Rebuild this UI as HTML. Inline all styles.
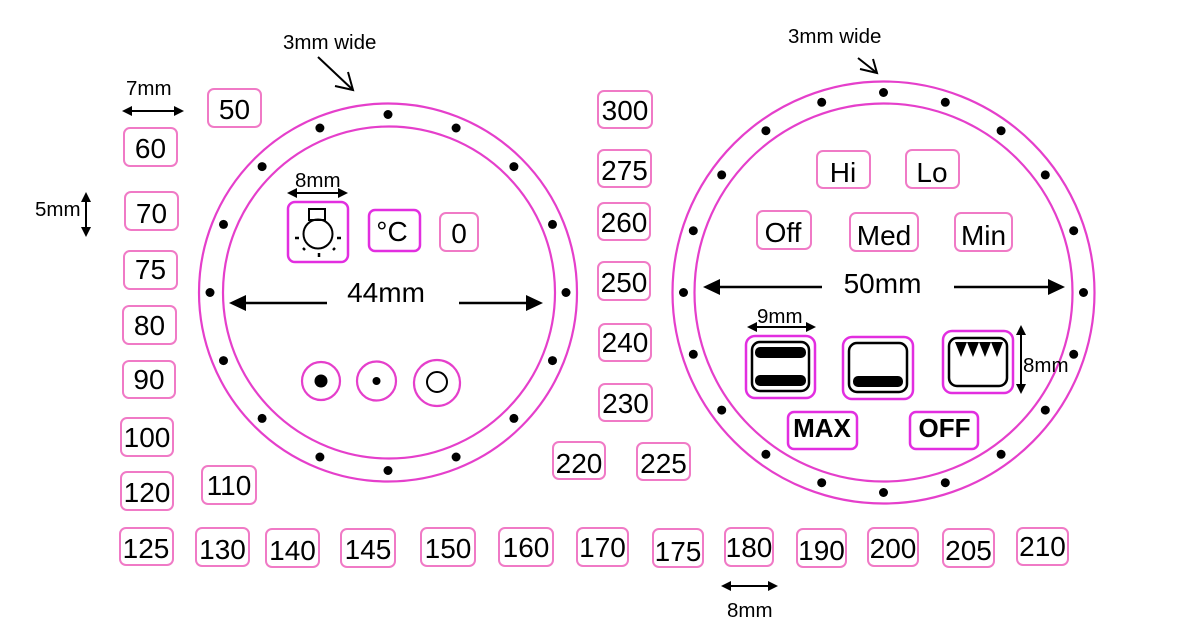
<!DOCTYPE html>
<html>
<head>
<meta charset="utf-8">
<style>
html,body{margin:0;padding:0;background:#fff;}
svg{display:block;}
text{font-family:"Liberation Sans",Arial,sans-serif;fill:#000;}
.b{fill:none;stroke:#f07ac6;stroke-width:2;}
.m{fill:none;stroke:#e22ee0;stroke-width:2.5;}
.c{fill:none;stroke:#e53fcb;stroke-width:2.2;}
.n{font-size:28px;text-anchor:middle;}
.s{font-size:20.5px;}
.k{fill:none;stroke:#000;stroke-width:2.5;}
</style>
</head>
<body>
<svg width="1195" height="644" viewBox="0 0 1195 644" xmlns="http://www.w3.org/2000/svg">
<rect width="1195" height="644" fill="#fff"/>

<!-- Left dial -->
<circle class="c" cx="388" cy="292.5" r="189"/>
<circle class="c" cx="389" cy="292.5" r="166"/>
<g fill="#000">
<circle cx="388" cy="114.5" r="4.5"/><circle cx="456.1" cy="128" r="4.5"/><circle cx="513.9" cy="166.6" r="4.5"/><circle cx="552.5" cy="224.4" r="4.5"/>
<circle cx="566" cy="292.5" r="4.5"/><circle cx="552.5" cy="360.6" r="4.5"/><circle cx="513.9" cy="418.4" r="4.5"/><circle cx="456.1" cy="457" r="4.5"/>
<circle cx="388" cy="470.5" r="4.5"/><circle cx="319.9" cy="457" r="4.5"/><circle cx="262.1" cy="418.4" r="4.5"/><circle cx="223.5" cy="360.6" r="4.5"/>
<circle cx="210" cy="292.5" r="4.5"/><circle cx="223.5" cy="224.4" r="4.5"/><circle cx="262.1" cy="166.6" r="4.5"/><circle cx="319.9" cy="128" r="4.5"/>
</g>

<!-- Right dial -->
<circle class="c" cx="883.5" cy="292.5" r="211"/>
<circle class="c" cx="883.5" cy="292.5" r="189"/>
<g fill="#000">
<circle cx="883.5" cy="92.5" r="4.5"/><circle cx="945.3" cy="102.3" r="4.5"/><circle cx="1001.1" cy="130.7" r="4.5"/><circle cx="1045.3" cy="174.9" r="4.5"/>
<circle cx="1073.7" cy="230.7" r="4.5"/><circle cx="1083.5" cy="292.5" r="4.5"/><circle cx="1073.7" cy="354.3" r="4.5"/><circle cx="1045.3" cy="410.1" r="4.5"/>
<circle cx="1001.1" cy="454.3" r="4.5"/><circle cx="945.3" cy="482.7" r="4.5"/><circle cx="883.5" cy="492.5" r="4.5"/><circle cx="821.7" cy="482.7" r="4.5"/>
<circle cx="765.9" cy="454.3" r="4.5"/><circle cx="721.7" cy="410.1" r="4.5"/><circle cx="693.3" cy="354.3" r="4.5"/><circle cx="683.5" cy="292.5" r="4.5"/>
<circle cx="693.3" cy="230.7" r="4.5"/><circle cx="721.7" cy="174.9" r="4.5"/><circle cx="765.9" cy="130.7" r="4.5"/><circle cx="821.7" cy="102.3" r="4.5"/>
</g>

<!-- Dimension labels & arrows -->
<text class="s" x="283" y="49">3mm wide</text>
<g stroke="#000" stroke-width="2" fill="none">
<line x1="318" y1="57" x2="353" y2="90"/>
<polyline points="335,86 353,90 348,72"/>
<line x1="858" y1="58" x2="877" y2="73"/>
<polyline points="860,69 877,73 873,59"/>
</g>
<text class="s" x="788" y="43">3mm wide</text>

<text class="s" x="126" y="95">7mm</text>
<line x1="128" y1="111" x2="178" y2="111" stroke="#000" stroke-width="2"/>
<polygon points="122,111 132,106 132,116" fill="#000"/>
<polygon points="184,111 174,106 174,116" fill="#000"/>

<text class="s" x="35" y="216">5mm</text>
<line x1="86" y1="198" x2="86" y2="232" stroke="#000" stroke-width="2"/>
<polygon points="86,192 81,202 91,202" fill="#000"/>
<polygon points="86,237 81,227 91,227" fill="#000"/>

<text class="s" x="295" y="187">8mm</text>
<line x1="293" y1="193" x2="342" y2="193" stroke="#000" stroke-width="2"/>
<polygon points="287,193 297,188 297,198" fill="#000"/>
<polygon points="348,193 338,188 338,198" fill="#000"/>

<text class="n" x="386" y="302">44mm</text>
<line x1="240" y1="303" x2="327" y2="303" stroke="#000" stroke-width="2.5"/>
<polygon points="229,303 246,295 246,311" fill="#000"/>
<line x1="459" y1="303" x2="532" y2="303" stroke="#000" stroke-width="2.5"/>
<polygon points="543,303 526,295 526,311" fill="#000"/>

<text class="n" x="882.5" y="293">50mm</text>
<line x1="714" y1="287" x2="822" y2="287" stroke="#000" stroke-width="2.5"/>
<polygon points="703,287 720,279 720,295" fill="#000"/>
<line x1="954" y1="287" x2="1054" y2="287" stroke="#000" stroke-width="2.5"/>
<polygon points="1065,287 1048,279 1048,295" fill="#000"/>

<text class="s" x="757" y="323">9mm</text>
<line x1="753" y1="327" x2="810" y2="327" stroke="#000" stroke-width="2"/>
<polygon points="747,327 757,322 757,332" fill="#000"/>
<polygon points="816,327 806,322 806,332" fill="#000"/>

<text class="s" x="1023" y="372">8mm</text>
<line x1="1021" y1="331" x2="1021" y2="388" stroke="#000" stroke-width="2"/>
<polygon points="1021,325 1016,335 1026,335" fill="#000"/>
<polygon points="1021,394 1016,384 1026,384" fill="#000"/>

<text class="s" x="727" y="617">8mm</text>
<line x1="727" y1="586" x2="772" y2="586" stroke="#000" stroke-width="2"/>
<polygon points="721,586 731,581 731,591" fill="#000"/>
<polygon points="778,586 768,581 768,591" fill="#000"/>

<!-- Left dial contents -->
<rect class="m" x="288" y="202" width="60" height="60" rx="7"/>
<rect x="309" y="209" width="16" height="11" fill="none" stroke="#000" stroke-width="2"/>
<circle cx="318" cy="234" r="14.5" fill="none" stroke="#000" stroke-width="2"/>
<g stroke="#000" stroke-width="2.5">
<line x1="295" y1="238" x2="299" y2="238"/>
<line x1="337" y1="238" x2="341" y2="238"/>
<line x1="303" y1="248" x2="305" y2="250"/>
<line x1="335" y1="248" x2="333" y2="250"/>
<line x1="319" y1="253" x2="319" y2="257"/>
</g>
<rect class="m" x="369" y="210" width="51" height="41" rx="6"/>
<text class="n" x="392" y="241">°C</text>
<rect class="b" x="440" y="213" width="38" height="38" rx="6"/>
<text class="n" x="459" y="243">0</text>

<circle class="c" cx="321" cy="381" r="19"/>
<circle cx="321" cy="381" r="6.5" fill="#000"/>
<circle class="c" cx="376.5" cy="381" r="19.5"/>
<circle cx="376.5" cy="381" r="4" fill="#000"/>
<circle class="c" cx="437" cy="383" r="23"/>
<circle cx="437" cy="382" r="10" fill="none" stroke="#000" stroke-width="2"/>

<!-- Right dial contents -->
<rect class="b" x="817" y="151" width="53" height="37" rx="6"/><text class="n" x="843" y="182">Hi</text>
<rect class="b" x="906" y="150" width="53" height="38" rx="6"/><text class="n" x="932" y="182">Lo</text>
<rect class="b" x="757" y="211" width="54" height="38" rx="6"/><text class="n" x="783" y="242">Off</text>
<rect class="b" x="850" y="213" width="68" height="38" rx="6"/><text class="n" x="884" y="245">Med</text>
<rect class="b" x="955" y="213" width="57" height="38" rx="6"/><text class="n" x="983.5" y="245">Min</text>

<rect class="m" x="746" y="336" width="69" height="62" rx="9"/>
<rect class="k" x="752" y="342" width="57" height="49" rx="8"/>
<rect x="755" y="347" width="51" height="11" rx="5" fill="#000"/>
<rect x="755" y="375" width="51" height="11" rx="5" fill="#000"/>

<rect class="m" x="843" y="337" width="70" height="62" rx="9"/>
<rect class="k" x="849" y="343" width="58" height="49" rx="8"/>
<rect x="853" y="376" width="50" height="11" rx="5" fill="#000"/>

<rect class="m" x="943" y="331" width="70" height="62" rx="9"/>
<rect class="k" x="949" y="338" width="58" height="48" rx="8"/>
<g fill="#000">
<polygon points="955,342 967,342 961,357"/>
<polygon points="967,342 979,342 973,357"/>
<polygon points="979,342 991,342 985,357"/>
<polygon points="991,342 1003,342 997,357"/>
</g>

<rect class="m" x="788" y="412" width="69" height="37" rx="6"/>
<text x="822" y="437" style="font-size:26px;font-weight:bold;text-anchor:middle;">MAX</text>
<rect class="m" x="910" y="412" width="68" height="37" rx="6"/>
<text x="944.5" y="437" style="font-size:26px;font-weight:bold;text-anchor:middle;">OFF</text>

<!-- Number boxes: left column -->
<rect class="b" x="208" y="89" width="53" height="38" rx="6"/><text class="n" x="234.5" y="119">50</text>
<rect class="b" x="124" y="128" width="53" height="38" rx="6"/><text class="n" x="150.5" y="158">60</text>
<rect class="b" x="125" y="192" width="53" height="38" rx="6"/><text class="n" x="151.5" y="223">70</text>
<rect class="b" x="124" y="251" width="53" height="38" rx="6"/><text class="n" x="150.5" y="279">75</text>
<rect class="b" x="123" y="306" width="53" height="38" rx="6"/><text class="n" x="149.5" y="335">80</text>
<rect class="b" x="123" y="361" width="52" height="37" rx="6"/><text class="n" x="149" y="389">90</text>
<rect class="b" x="121" y="418" width="52" height="38" rx="6"/><text class="n" x="147" y="447">100</text>
<rect class="b" x="121" y="472" width="52" height="38" rx="6"/><text class="n" x="147" y="502">120</text>
<rect class="b" x="202" y="466" width="54" height="38" rx="6"/><text class="n" x="229" y="495">110</text>

<!-- Middle column -->
<rect class="b" x="598" y="91" width="54" height="37" rx="6"/><text class="n" x="625" y="120">300</text>
<rect class="b" x="598" y="150" width="53" height="37" rx="6"/><text class="n" x="624.5" y="180">275</text>
<rect class="b" x="598" y="203" width="52" height="37" rx="6"/><text class="n" x="624" y="232">260</text>
<rect class="b" x="598" y="262" width="52" height="38" rx="6"/><text class="n" x="624" y="292">250</text>
<rect class="b" x="599" y="324" width="52" height="37" rx="6"/><text class="n" x="625" y="352">240</text>
<rect class="b" x="599" y="384" width="53" height="37" rx="6"/><text class="n" x="625.5" y="413">230</text>
<rect class="b" x="553" y="442" width="52" height="37" rx="6"/><text class="n" x="579" y="473">220</text>
<rect class="b" x="637" y="443" width="53" height="37" rx="6"/><text class="n" x="663.5" y="473">225</text>

<!-- Bottom row -->
<rect class="b" x="120" y="528" width="53" height="37" rx="6"/><text class="n" x="146" y="558">125</text>
<rect class="b" x="196" y="528" width="53" height="38" rx="6"/><text class="n" x="222.5" y="559">130</text>
<rect class="b" x="266" y="529" width="53" height="38" rx="6"/><text class="n" x="292.5" y="560">140</text>
<rect class="b" x="341" y="529" width="54" height="38" rx="6"/><text class="n" x="368" y="559">145</text>
<rect class="b" x="421" y="528" width="54" height="38" rx="6"/><text class="n" x="448" y="558">150</text>
<rect class="b" x="499" y="528" width="54" height="38" rx="6"/><text class="n" x="526" y="557">160</text>
<rect class="b" x="577" y="528" width="51" height="38" rx="6"/><text class="n" x="602.5" y="557">170</text>
<rect class="b" x="653" y="529" width="50" height="38" rx="6"/><text class="n" x="678" y="561">175</text>
<rect class="b" x="725" y="528" width="48" height="38" rx="6"/><text class="n" x="749" y="557">180</text>
<rect class="b" x="797" y="529" width="49" height="38" rx="6"/><text class="n" x="821.5" y="560">190</text>
<rect class="b" x="868" y="528" width="50" height="38" rx="6"/><text class="n" x="893" y="558">200</text>
<rect class="b" x="943" y="529" width="51" height="38" rx="6"/><text class="n" x="968.5" y="560">205</text>
<rect class="b" x="1017" y="528" width="51" height="37" rx="6"/><text class="n" x="1042.5" y="556">210</text>
</svg>
</body>
</html>
